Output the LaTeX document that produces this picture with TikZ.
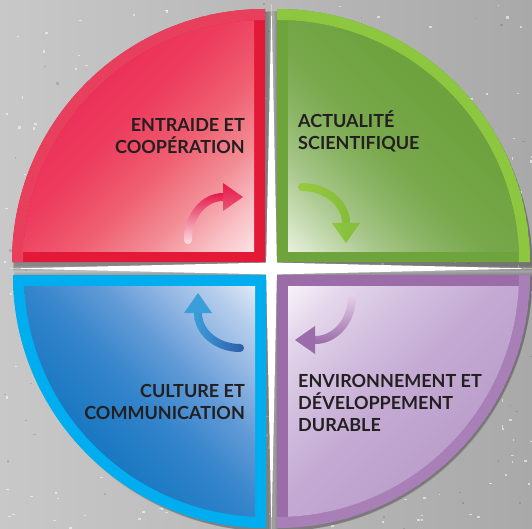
\documentclass[tikz,border=0pt]{standalone}
\usepackage{fontspec}
\setmainfont{Lato}
\definecolor{txt}{HTML}{231F20}
\definecolor{bgL}{HTML}{C8C8C8}
\definecolor{bgR}{HTML}{A9A9A9}
% red
\definecolor{redEdge}{HTML}{E31937}
\definecolor{redArc}{HTML}{E8405C}
\definecolor{rA}{HTML}{EB1E4C}
\definecolor{rB}{HTML}{EC2A55}
\definecolor{rC}{HTML}{ED3C5E}
\definecolor{rD}{HTML}{EF5E70}
\definecolor{rE}{HTML}{F28C94}
\definecolor{rF}{HTML}{F8BEC3}
\definecolor{rG}{HTML}{FCE4E6}
\definecolor{rW}{HTML}{FEF7F8}
% green
\definecolor{grEdge}{HTML}{6EA43B}
\definecolor{grArc}{HTML}{8DC63F}
\definecolor{gA}{HTML}{6A9F3A}
\definecolor{gB}{HTML}{6EA23E}
\definecolor{gC}{HTML}{78A84C}
\definecolor{gD}{HTML}{8DB668}
\definecolor{gE}{HTML}{A8C78C}
\definecolor{gF}{HTML}{C8DCB4}
\definecolor{gG}{HTML}{EAF2E2}
\definecolor{gW}{HTML}{F9FCF6}
% blue
\definecolor{blEdge}{HTML}{00AEEF}
\definecolor{bA}{HTML}{0070BA}
\definecolor{bB}{HTML}{1476C0}
\definecolor{bC}{HTML}{3384CB}
\definecolor{bD}{HTML}{5E98D5}
\definecolor{bE}{HTML}{8EB4E2}
\definecolor{bF}{HTML}{B8CFEC}
\definecolor{bG}{HTML}{E2EBF7}
\definecolor{bW}{HTML}{F8FAFD}
% purple
\definecolor{puEdge}{HTML}{9B6CA8}
\definecolor{puArc}{HTML}{A97FB8}
\definecolor{pA}{HTML}{B596C6}
\definecolor{pB}{HTML}{BA9ECB}
\definecolor{pC}{HTML}{C4AAD3}
\definecolor{pD}{HTML}{D3C0DF}
\definecolor{pE}{HTML}{E4D7EB}
\definecolor{pF}{HTML}{F6F1F8}
% arrows
\definecolor{rHead}{HTML}{E6194B}
\definecolor{rHeadB}{HTML}{EC5577}
\definecolor{rTail}{HTML}{FCE0E5}
\definecolor{rMid}{HTML}{EC4A70}
\definecolor{gHead}{HTML}{84BD3B}
\definecolor{gTail}{HTML}{98CA3D}
\definecolor{pHead}{HTML}{9A6CA9}
\definecolor{pTail}{HTML}{EAD3EA}
\definecolor{bHead}{HTML}{3A9EDB}
\definecolor{bTail}{HTML}{2E5CA9}

\pgfdeclareverticalshading{redfill}{100bp}{color(0bp)=(white); color(7bp)=(rW); color(14bp)=(rG); color(22bp)=(rF); color(31bp)=(rE); color(42bp)=(rD); color(54bp)=(rC); color(70bp)=(rB); color(90bp)=(rA); color(100bp)=(rA)}
\pgfdeclareverticalshading{greenfill}{100bp}{color(0bp)=(white); color(7bp)=(gW); color(14bp)=(gG); color(21bp)=(gF); color(28bp)=(gE); color(36bp)=(gD); color(45bp)=(gC); color(60bp)=(gB); color(100bp)=(gA)}
\pgfdeclareverticalshading{bluefill}{100bp}{color(0bp)=(white); color(7bp)=(bW); color(14bp)=(bG); color(21bp)=(bF); color(30bp)=(bE); color(39bp)=(bD); color(50bp)=(bC); color(66bp)=(bB); color(90bp)=(bA); color(100bp)=(bA)}
\pgfdeclareverticalshading{purplefill}{100bp}{color(0bp)=(white); color(8bp)=(white); color(15bp)=(pF); color(23bp)=(pE); color(34bp)=(pD); color(47bp)=(pC); color(66bp)=(pB); color(100bp)=(pA)}

% #1 cx #2 cy #3 sx #4 sy #5 start angle #6 edge colour #7 arc colour #8 shading #9 shading angle
\newcommand{\qsec}[9]{%
  \fill[#6] (#1,#2) -- ([shift={(#1,#2)}]#5:253) arc[start angle=#5, delta angle=90, radius=253] -- cycle;
  \begin{scope}
    \clip (#1,#2) -- ([shift={(#1,#2)}]#5:253) arc[start angle=#5, delta angle=90, radius=253] -- cycle;
    \fill[#7, even odd rule] (#1,#2) circle[radius=253] (#1,#2) circle[radius=242];
    \clip (#1,#2) circle[radius=242];
    \shade[shading=#8, shading angle=#9] ({#1+(#3)*11},{#2+(#4)*11}) rectangle ({#1+(#3)*242},{#2+(#4)*242});
  \end{scope}}

\newcommand{\qshadow}[5]{%
  \foreach \k in {1,...,8}{%
    \pgfmathsetmacro{\shx}{#1-(#3)*\k*0.8+2}%
    \pgfmathsetmacro{\shy}{#2-(#4)*\k*0.8+3}%
    \pgfmathsetmacro{\shr}{253+\k*0.9}%
    \fill[black,opacity=0.045] (\shx,\shy) -- ([shift={(\shx,\shy)}]#5:\shr) arc[start angle=#5, delta angle=90, radius=\shr] -- cycle;}}

\tikzset{lbl/.style={font=\fontsize{18}{21}\selectfont\bfseries, text=txt, inner sep=0pt}}

\begin{document}
\begin{tikzpicture}[x=1pt, y=-1pt]
\useasboundingbox (0,0) rectangle (532,529);
\clip (0,0) rectangle (532,529);
% background
\shade[left color=bgL, right color=bgR] (0,0) rectangle (532,529);
\pgfmathsetseed{12}
\foreach \i in {1,...,320}{%
  \pgfmathsetmacro{\spx}{rnd*532}%
  \pgfmathsetmacro{\spy}{rnd*529}%
  \pgfmathsetmacro{\spw}{0.8+rnd*2.6}%
  \pgfmathsetmacro{\sph}{0.8+rnd*2}%
  \fill[white, opacity=0.55] (\spx,\spy) rectangle ++(\spw,\sph);}
\foreach \i in {1,...,120}{%
  \pgfmathsetmacro{\spx}{rnd*532}%
  \pgfmathsetmacro{\spy}{rnd*529}%
  \pgfmathsetmacro{\spw}{0.8+rnd*3}%
  \pgfmathsetmacro{\sph}{0.8+rnd*2}%
  \fill[black, opacity=0.12] (\spx,\spy) rectangle ++(\spw,\sph);}
% shadows
\qshadow{265}{262}{-1}{-1}{180}
\qshadow{277}{262}{1}{-1}{270}
\qshadow{266}{275}{-1}{1}{90}
\qshadow{277}{275}{1}{1}{0}
% white gaps
\fill[white] (271.5,4) -- (277,268.5) -- (271.5,529) -- (266,268.5) -- cycle;
\fill[white] (10,268.5) -- (271.5,262.5) -- (532,268.5) -- (271.5,274.5) -- cycle;
% sectors
\qsec{265}{262}{-1}{-1}{180}{redEdge}{redArc}{redfill}{45}
\qsec{277}{262}{1}{-1}{270}{grEdge}{grArc}{greenfill}{-45}
\qsec{266}{275}{-1}{1}{90}{blEdge}{blEdge}{bluefill}{135}
\qsec{277}{275}{1}{1}{0}{puEdge}{puArc}{purplefill}{225}
% red arrow
\shade[top color=rHead, middle color=rMid, bottom color=rTail] (184,240) arc[start angle=180, end angle=270, x radius=39, y radius=47] -- (223,201) arc[start angle=270, end angle=180, x radius=31, y radius=39] arc[start angle=0, end angle=180, radius=4] -- cycle;
\shade[top color=rHead, bottom color=rHeadB] (223,183) -- (243,197) -- (223,211) -- cycle;
% green arrow
\shade[left color=gTail, right color=gHead] (302,183) arc[start angle=270, end angle=360, x radius=48, y radius=40] -- (342,223) arc[start angle=360, end angle=270, x radius=40, y radius=32] arc[start angle=90, end angle=270, radius=4] -- cycle;
\shade[left color=grArc, right color=gHead] (332,223) -- (360,223) -- (346,243) -- cycle;
% purple arrow
\shade[top color=pTail, bottom color=pHead] (356,297) arc[start angle=0, end angle=90, x radius=41, y radius=47] -- (315,336) arc[start angle=90, end angle=0, x radius=33, y radius=39] arc[start angle=180, end angle=360, radius=4] -- cycle;
\fill[pHead] (315,326) -- (315,354) -- (295,340) -- cycle;
% blue arrow
\shade[left color=bHead, right color=bTail] (240,352) arc[start angle=90, end angle=180, x radius=46, y radius=39] -- (202,313) arc[start angle=180, end angle=90, x radius=38, y radius=31] arc[start angle=-90, end angle=90, radius=4] -- cycle;
\fill[bHead] (184,313) -- (212,313) -- (198,293) -- cycle;
% labels
\node[lbl, anchor=base east] (r1) at (245,132) {ENTRAIDE ET};
\node[lbl, anchor=base east] (r2) at (245,153.5) {COOPÉRATION};
\node[lbl, anchor=base west] (g1) at (298,128) {ACTUALITÉ};
\node[lbl, anchor=base west] (g2) at (298,149.5) {SCIENTIFIQUE};
\node[lbl, anchor=base east] (b1) at (245,397) {CULTURE ET};
\node[lbl, anchor=base east] (b2) at (245,419) {COMMUNICATION};
\node[lbl, anchor=base west] (p1) at (298,387) {ENVIRONNEMENT ET};
\node[lbl, anchor=base west] (p2) at (298,409) {DÉVELOPPEMENT};
\node[lbl, anchor=base west] (p3) at (298,431) {DURABLE};
\end{tikzpicture}
\end{document}
